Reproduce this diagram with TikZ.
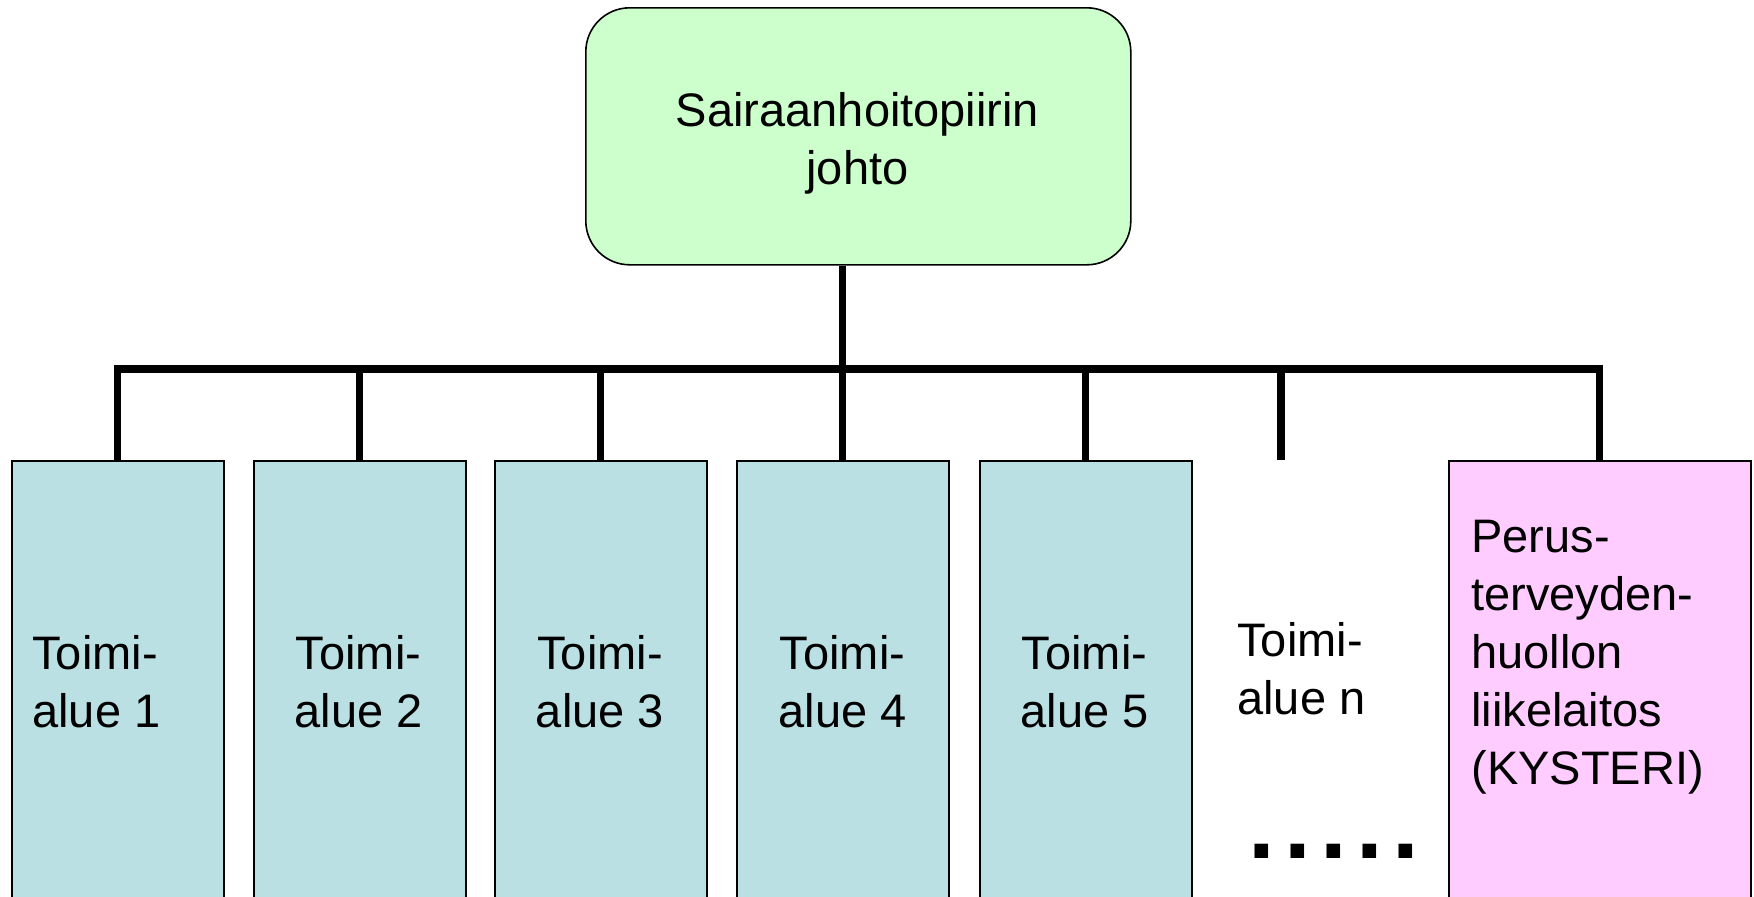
\documentclass[tikz,border=0pt]{standalone}
\usepackage{fontspec}
\setmainfont{Liberation Sans}
\definecolor{topgreen}{RGB}{204,255,204}
\definecolor{areablue}{RGB}{187,224,227}
\definecolor{pinkfill}{RGB}{255,204,255}
\begin{document}
\begin{tikzpicture}[x=0.5pt,y=-0.5pt,
  topbox/.style={draw=black, line width=0.8pt, fill=topgreen, rounded corners=22pt, inner sep=0pt, anchor=north west},
  areabox/.style={draw=black, line width=0.8pt, fill=areablue, inner sep=0pt, anchor=north west, minimum height=230pt},
  lbl/.style={inner sep=0pt, font=\fontsize{23.5pt}{29pt}\selectfont},
  wire/.style={line width=3.6pt, line join=miter}]
\useasboundingbox (0,0) rectangle (1754,896);
\node[topbox, minimum width=272.5pt, minimum height=128.5pt] (top) at (585,7) {};
\node[lbl, align=center] (toptext) at (857.5,143.5) {Sairaanhoitopiirin\\johto};

\node[areabox, minimum width=106pt] (b1) at (11,460) {};
\node[areabox, minimum width=106pt] (b2) at (253,460) {};
\node[areabox, minimum width=106pt] (b3) at (494,460) {};
\node[areabox, minimum width=106pt] (b4) at (736,460) {};
\node[areabox, minimum width=106pt] (b5) at (979,460) {};
\node[areabox, fill=pinkfill, minimum width=151pt] (pk) at (1448,460) {};
\coordinate (nn) at (1281,460);
\coordinate (bus) at (841,369);

\node[lbl, align=left, anchor=west] (t1) at (32,681.5) {Toimi-\\alue 1};
\node[lbl, align=center] (t2) at (358.5,681.5) {Toimi-\\alue 2};
\node[lbl, align=center] (t3) at (600,681.5) {Toimi-\\alue 3};
\node[lbl, align=center] (t4) at (842.5,681.5) {Toimi-\\alue 4};
\node[lbl, align=center] (t5) at (1084.5,681.5) {Toimi-\\alue 5};
\node[lbl, align=left, anchor=west] (tn) at (1237,669) {Toimi-\\alue n};
\node[lbl, align=left, anchor=west] (tp) at (1471,657.5) {Perus-\\terveyden-\\huollon\\liikelaitos\\(KYSTERI)};
\node[inner sep=0pt, anchor=base west, font=\bfseries\fontsize{48pt}{48pt}\selectfont] (dots) at (1248,858) {.\kern4.65pt.\kern4.65pt.\kern4.65pt.\kern4.65pt.};

\draw[wire] (b1.north) -- (b1.north |- bus) -- (pk.north |- bus) -- (pk.north);
\draw[wire] (top.south -| b4.north) -- (b4.north);
\draw[wire] (b2.north) -- (b2.north |- bus);
\draw[wire] (b3.north) -- (b3.north |- bus);
\draw[wire] (b5.north) -- (b5.north |- bus);
\draw[wire] (nn) -- (nn |- bus);
\end{tikzpicture}
\end{document}
